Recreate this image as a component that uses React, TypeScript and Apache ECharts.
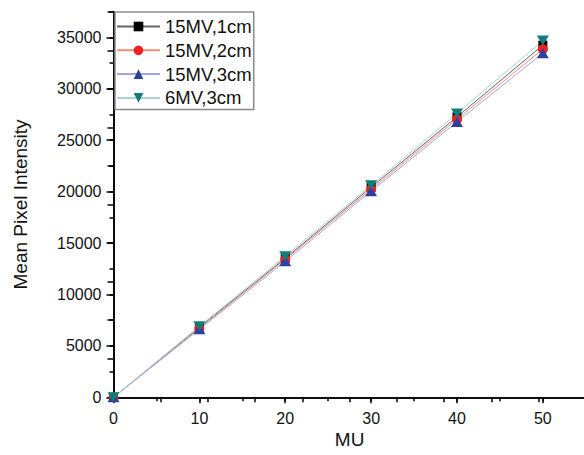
import React, { useEffect, useRef } from "react";
import * as echarts from "echarts";

const mu = [0, 10, 20, 30, 40, 50];
const seriesNames = ["15MV,1cm", "15MV,2cm", "15MV,3cm", "6MV,3cm"];
const v15mv1cm = [0, 6810, 13520, 20430, 27270, 34250];
const v15mv2cm = [0, 6710, 13420, 20230, 27040, 33860];
const v15mv3cm = [0, 6610, 13230, 20040, 26780, 33470];
const v6mv3cm = [0, 6900, 13720, 20620, 27600, 34690];
const yTickValues = [0, 5000, 10000, 15000, 20000, 25000, 30000, 35000];
const xTickValues = [0, 10, 20, 30, 40, 50];

const FONT = "'Liberation Sans', Arial, sans-serif";

export default function App() {
  const ref = useRef<HTMLDivElement>(null);
  useEffect(() => {
    document.body.style.margin = "0";
    const chart = echarts.init(ref.current!, undefined, { renderer: "svg" });
    const toPairs = (vals: number[]) => mu.map((x, i) => [x, vals[i]]);
    const mk = (
      name: string,
      vals: number[],
      symbol: string,
      size: number | number[],
      markerColor: string,
      lineColor: string
    ) => ({
      name,
      type: "line",
      xAxisIndex: 0,
      yAxisIndex: 0,
      data: toPairs(vals),
      symbol,
      symbolSize: size,
      showAllSymbol: true,
      itemStyle: { color: markerColor, borderWidth: 0 },
      lineStyle: { color: lineColor, width: 1 },
      emphasis: { disabled: true },
    });
    const axisLine = { show: true, lineStyle: { color: "#000", width: 1.6 } };
    const plain = (v: number) => String(v);
    chart.setOption({
      animation: false,
      backgroundColor: "#fff",
      textStyle: { fontFamily: FONT },
      grid: {
        left: 113.5,
        top: 11.7,
        right: -1.8,
        bottom: 57.7,
        containLabel: false,
        outerBoundsMode: "none",
      },
      legend: {
        left: 115,
        top: 12,
        orient: "vertical",
        itemWidth: 43,
        itemHeight: 12,
        itemGap: 4.8,
        itemTextGap: 8,
        padding: [5, 2, 2, 1],
        borderColor: "#8a8a8a",
        borderWidth: 1.5,
        backgroundColor: "#fff",
        textStyle: { fontSize: 18.5, color: "#111", fontFamily: FONT },
        data: seriesNames,
      },
      xAxis: [
        {
          type: "value",
          position: "bottom",
          min: 0,
          max: 55,
          interval: 5,
          axisLine,
          axisTick: { show: true, inside: false, length: 4, lineStyle: { color: "#000", width: 1.5 } },
          axisLabel: { show: false },
          splitLine: { show: false },
          name: "MU",
          nameLocation: "middle",
          nameGap: 33,
          nameTextStyle: { fontSize: 19, color: "#111", fontFamily: FONT },
        },
        {
          type: "value",
          position: "bottom",
          min: 0,
          max: 55,
          interval: 10,
          axisLine: { show: false },
          axisTick: {
            show: true,
            inside: false,
            length: 6,
            lineStyle: { color: "#000", width: 1.5 },
            customValues: xTickValues,
          },
          axisLabel: {
            show: true,
            margin: 13,
            fontSize: 16,
            color: "#111",
            fontFamily: FONT,
            formatter: plain,
            customValues: xTickValues,
          },
          splitLine: { show: false },
        },
        {
          type: "value",
          position: "top",
          min: 0,
          max: 55,
          interval: 5.5,
          axisLine,
          axisTick: { show: true, inside: true, length: 5, lineStyle: { color: "#000", width: 1.5 } },
          axisLabel: { show: false },
          splitLine: { show: false },
        },
      ],
      yAxis: [
        {
          type: "value",
          position: "left",
          min: 0,
          max: 37500,
          interval: 2500,
          axisLine,
          axisTick: { show: true, inside: false, length: 4, lineStyle: { color: "#000", width: 1.5 } },
          axisLabel: { show: false },
          splitLine: { show: false },
          name: "Mean Pixel Intensity",
          nameLocation: "middle",
          nameGap: 84,
          nameTextStyle: { fontSize: 19, color: "#111", fontFamily: FONT },
        },
        {
          type: "value",
          position: "left",
          min: 0,
          max: 37500,
          interval: 5000,
          axisLine: { show: false },
          axisTick: {
            show: true,
            inside: false,
            length: 7,
            lineStyle: { color: "#000", width: 1.5 },
            customValues: yTickValues,
          },
          axisLabel: {
            show: true,
            margin: 12,
            fontSize: 16,
            color: "#111",
            fontFamily: FONT,
            formatter: plain,
            customValues: yTickValues,
          },
          splitLine: { show: false },
        },
        {
          type: "value",
          position: "right",
          min: 0,
          max: 37500,
          interval: 3750,
          axisLine,
          axisTick: { show: true, inside: true, length: 6, lineStyle: { color: "#000", width: 1.5 } },
          axisLabel: { show: false },
          splitLine: { show: false },
        },
      ],
      series: [
        mk(seriesNames[0], v15mv1cm, "rect", 9, "#000000", "#666666"),
        mk(seriesNames[1], v15mv2cm, "circle", 10, "#ee2020", "#f28a78"),
        mk(seriesNames[2], v15mv3cm, "triangle", [12, 10], "#2d3f9f", "#a2a6e6"),
        mk(seriesNames[3], v6mv3cm, "path://M0,0 L12,0 L6,10 Z", [12, 10], "#127c78", "#a9d3cf"),
      ],
    });
    return () => chart.dispose();
  }, []);
  return <div ref={ref} style={{ width: 584, height: 455 }} />;
}
